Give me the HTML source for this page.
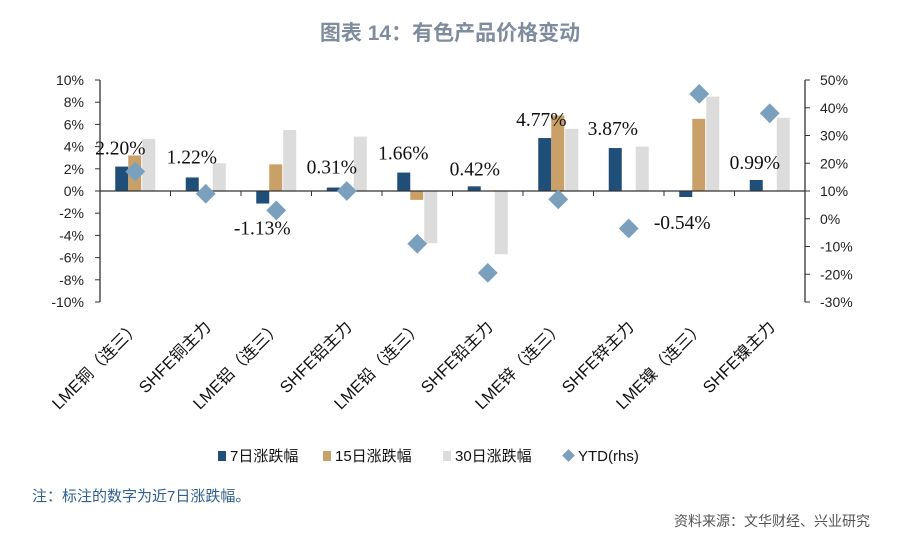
<!DOCTYPE html>
<html><head><meta charset="utf-8"><style>
body{margin:0;background:#fff;width:900px;height:551px;overflow:hidden;font-family:"Liberation Sans","Noto Sans CJK SC",sans-serif}
</style></head><body>
<svg id="c" width="900" height="551" xmlns="http://www.w3.org/2000/svg">
<text x="450" y="40" text-anchor="middle" font-size="21" font-weight="bold" fill="#7f8c9e" font-family="Liberation Sans,Noto Sans CJK SC,sans-serif">图表 14：有色产品价格变动</text>
<g id="plot"></g>
<text x="32" y="501" font-size="15" fill="#2f5f8f" font-family="Liberation Sans,Noto Sans CJK SC,sans-serif">注：标注的数字为近7日涨跌幅。</text>
<text x="870" y="526" text-anchor="end" font-size="14" fill="#555" font-family="Liberation Sans,Noto Sans CJK SC,sans-serif">资料来源：文华财经、兴业研究</text>
</svg>
<script>
const categories=["LME铜（连三）","SHFE铜主力","LME铝（连三）","SHFE铝主力","LME铅（连三）","SHFE铅主力","LME锌（连三）","SHFE锌主力","LME镍（连三）","SHFE镍主力"];
const d7=[2.20,1.22,-1.13,0.31,1.66,0.42,4.77,3.87,-0.54,0.99];
const d15=[3.2,0,2.4,0,-0.8,0,6.8,0,6.5,0];
const d30=[4.7,2.5,5.5,4.9,-4.7,-5.7,5.6,4.0,8.5,6.6];
const ytd=[17,9,3,10,-9,-19.5,7,-3.5,45,38];
const leftTicks=[10,8,6,4,2,0,-2,-4,-6,-8,-10];
const rightTicks=[50,40,30,20,10,0,-10,-20,-30];
const labelDx=[-15,-14,-14,-15,-14,-13,-17,-16,-17,-15];
const labelDy=[-12,-14,31,-14,-13,-11,-12,-13,32,-11];
const NS="http://www.w3.org/2000/svg";
const g=document.getElementById('plot');
const X0=100,X1=805,YT=80,YB=302;
const yL=v=>YT+(10-v)*(YB-YT)/20;
const yR=v=>YT+(50-v)*(YB-YT)/80;
const cw=(X1-X0)/categories.length;
const cx=i=>X0+cw*(i+0.5);
function el(t,a,txt){const e=document.createElementNS(NS,t);for(const k in a)e.setAttribute(k,a[k]);if(txt!==undefined)e.textContent=txt;g.appendChild(e);return e;}
let e;
e=el('line',{x1:X0,y1:YT,x2:X0,y2:YB,stroke:'#333','stroke-width':1.3});


e=el('line',{x1:X1,y1:YT,x2:X1,y2:YB,stroke:'#333','stroke-width':1.3});


leftTicks.forEach(v=>{
 el('line',{x1:X0-5,y1:yL(v),x2:X0,y2:yL(v),stroke:'#333'});
 e=el('text',{x:X0-16,y:yL(v)+5,'text-anchor':'end','font-size':14,fill:'#222'},v+'%');
 
 
});
rightTicks.forEach(v=>{
 el('line',{x1:X1,y1:yR(v),x2:X1+5,y2:yR(v),stroke:'#333'});
 e=el('text',{x:X1+15,y:yR(v)+5,'font-size':14,fill:'#222'},v+'%');
 
 
});
const bw=13;
categories.forEach((c,i)=>{
 const x=cx(i);
 [[d7,'#1f4e79',-20],[d15,'#c9a067',-7],[d30,'#dcdcdc',7]].forEach(([arr,col,off],k)=>{
  const v=arr[i];if(v===0)return;
  const y1=yL(Math.max(v,0)),y2=yL(Math.min(v,0));
  e=el('rect',{x:x+off,y:y1,width:bw,height:y2-y1,fill:col});
  
  
 });
});
e=el('line',{x1:X0,y1:yL(0),x2:X1,y2:yL(0),stroke:'#333','stroke-width':1.3});


categories.forEach((c,i)=>{
 if(i>0)el('line',{x1:X0+cw*i,y1:yL(0),x2:X0+cw*i,y2:yL(0)+5,stroke:'#333'});
 const x=cx(i),yy=yR(ytd[i]);
 e=el('rect',{x:x-7,y:yy-7,width:14,height:14,fill:'#7ba0bd',transform:`rotate(45 ${x} ${yy})`});
 
 
 const v=d7[i];
 e=el('text',{x:x+labelDx[i],y:yL(v)+labelDy[i],'text-anchor':'middle','font-size':19.5,fill:'#111','font-family':'Liberation Serif,serif'},v.toFixed(2)+'%');
 
 
 e=el('text',{x:x+6,y:328,'text-anchor':'end','font-size':16.5,fill:'#111',transform:`rotate(-45 ${x+6} 328)`},c);
 
 
});
const leg=[['7日涨跌幅','#1f4e79',230,'r'],['15日涨跌幅','#c9a067',335,'r'],['30日涨跌幅','#dcdcdc',455,'r'],['YTD(rhs)','#7ba0bd',578,'d']];
leg.forEach(([t,col,x,s])=>{
 if(s==='r')el('rect',{x:x-12,y:451,width:8,height:10,fill:col});
 else el('rect',{x:x-14,y:451,width:9,height:9,fill:col,transform:`rotate(45 ${x-9.5} 455.5)`});
 e=el('text',{x:x,y:461,'font-size':15,fill:'#111'},t);
 
 
});
</script>
</body></html>
